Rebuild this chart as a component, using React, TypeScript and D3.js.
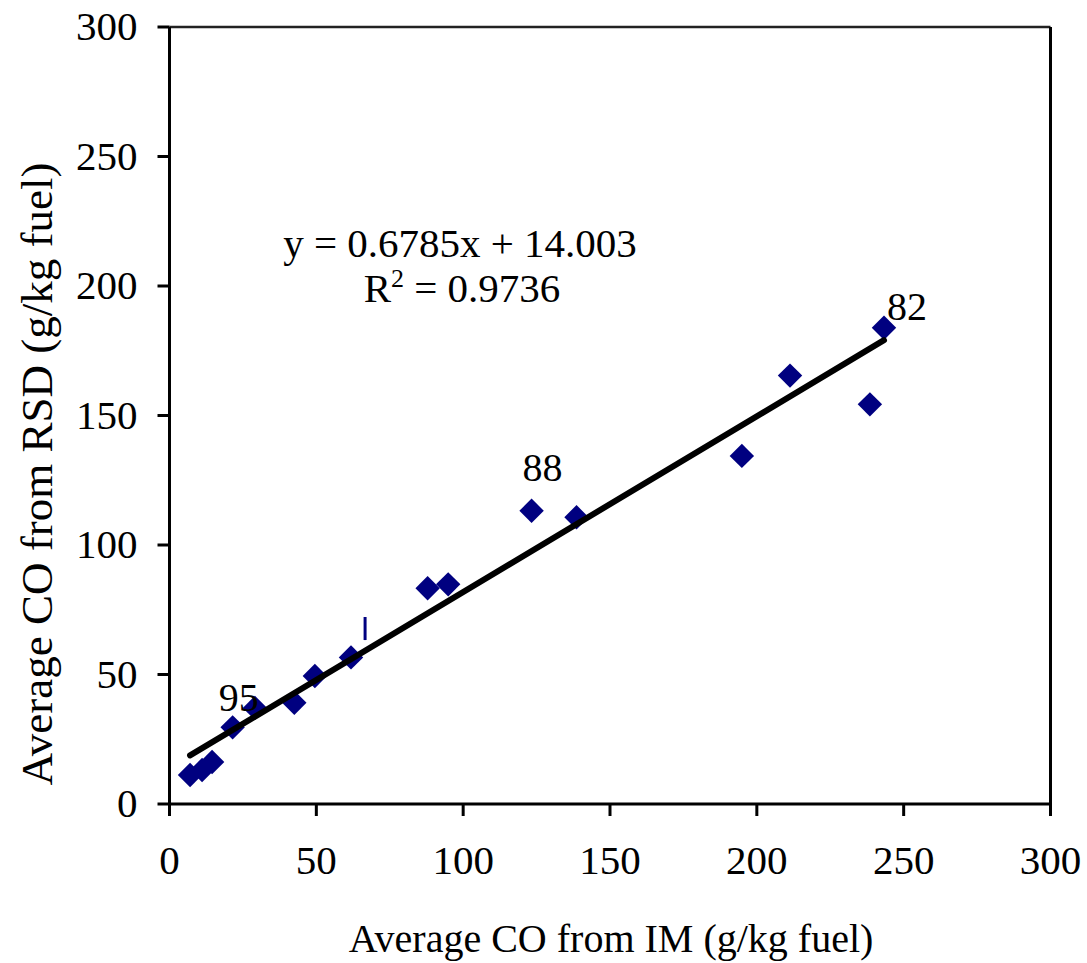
import React from "react";
import * as d3 from "d3";

const W = 1087;
const H = 963;

// Data
const imValues = [7.0, 11.1, 14.5, 21.5, 29.1, 42.5, 49.5, 61.8, 87.9, 94.9, 123.3, 138.6, 194.9, 211.3, 238.5, 243.3];
const rsdValues = [11.2, 13.1, 16.2, 29.6, 37.1, 39.1, 49.4, 56.6, 83.3, 84.8, 113.2, 110.7, 134.4, 165.4, 154.3, 183.9];

const slope = 0.6785;
const intercept = 14.003;
const trendRange = [7.0, 243.3];

const xTicks = [0, 50, 100, 150, 200, 250, 300];
const yTicks = [0, 50, 100, 150, 200, 250, 300];

const pointLabels = ["95", "88", "82"];
const labelAtX = [21.5, 123.3, 243.3];
const labelAtY = [29.6, 113.2, 183.9];

const markX = 66.6;
const markY = [63.3, 72.2];

const FONT = "'Liberation Serif', 'Times New Roman', serif";
const NAVY = "#000080";

export default function App() {
  const left = 169.5, right = 1050.5, top = 27, bottom = 804;
  const x = d3.scaleLinear().domain([0, 300]).range([left, right]);
  const y = d3.scaleLinear().domain([0, 300]).range([bottom, top]);

  const trendPts = trendRange.map((v) => [x(v), y(slope * v + intercept)] as [number, number]);
  const line = d3.line();
  const diamond = d3.symbol().type(d3.symbolDiamond2).size(380)();

  const labelOffsets: [number, number, string][] = [
    [6, -16, "middle"],
    [11, -30, "middle"],
    [3, -8, "start"],
  ];

  return (
    <svg width={W} height={H} style={{ position: "absolute", left: 0, top: 0, background: "#fff" }}>
      {/* frame top and right */}
      <line x1={left} x2={right} y1={top} y2={top} stroke="#222" strokeWidth={2.5} />
      <line x1={right} x2={right} y1={top} y2={bottom} stroke="#000" strokeWidth={3} />
      {/* axes */}
      <line x1={left} x2={left} y1={top} y2={bottom} stroke="#000" strokeWidth={3} />
      <line x1={left} x2={right} y1={bottom} y2={bottom} stroke="#000" strokeWidth={3} />
      {xTicks.map((t) => (
        <g key={"xt" + t}>
          <line x1={x(t)} x2={x(t)} y1={bottom} y2={bottom + 12} stroke="#000" strokeWidth={3} />
          <text x={x(t)} y={bottom + 70} textAnchor="middle" fontFamily={FONT} fontSize={41}>
            {t}
          </text>
        </g>
      ))}
      {yTicks.map((t) => (
        <g key={"yt" + t}>
          <line x1={left - 12} x2={left} y1={y(t)} y2={y(t)} stroke="#000" strokeWidth={3} />
          <text x={left - 32} y={y(t) + 13} textAnchor="end" fontFamily={FONT} fontSize={41}>
            {t}
          </text>
        </g>
      ))}
      <text x={611} y={952} textAnchor="middle" fontFamily={FONT} fontSize={40}>
        Average CO from IM (g/kg fuel)
      </text>
      <text
        transform={`translate(52, 474) rotate(-90)`}
        textAnchor="middle"
        fontFamily={FONT}
        fontSize={45}
      >
        Average CO from RSD (g/kg fuel)
      </text>

      {/* points */}
      {imValues.map((v, i) => (
        <path
          key={"p" + i}
          d={diamond as string}
          transform={`translate(${x(v)},${y(rsdValues[i])})`}
          fill={NAVY}
        />
      ))}
      {/* small mark */}
      <line x1={x(markX)} x2={x(markX)} y1={y(markY[0])} y2={y(markY[1])} stroke={NAVY} strokeWidth={3} />

      {/* trend line */}
      <path d={line(trendPts) as string} fill="none" stroke="#000" strokeWidth={6} strokeLinecap="round" />

      {/* point labels */}
      {pointLabels.map((l, i) => (
        <text
          key={"l" + i}
          x={x(labelAtX[i]) + labelOffsets[i][0]}
          y={y(labelAtY[i]) + labelOffsets[i][1]}
          textAnchor={labelOffsets[i][2] as any}
          fontFamily={FONT}
          fontSize={40}
        >
          {l}
        </text>
      ))}

      {/* equation */}
      <text x={460} y={257} textAnchor="middle" fontFamily={FONT} fontSize={41}>
        y = 0.6785x + 14.003
      </text>
      <text x={462} y={302} textAnchor="middle" fontFamily={FONT} fontSize={41}>
        R<tspan dy={-15} fontSize={26}>2</tspan>
        <tspan dy={15}> = 0.9736</tspan>
      </text>
    </svg>
  );
}
